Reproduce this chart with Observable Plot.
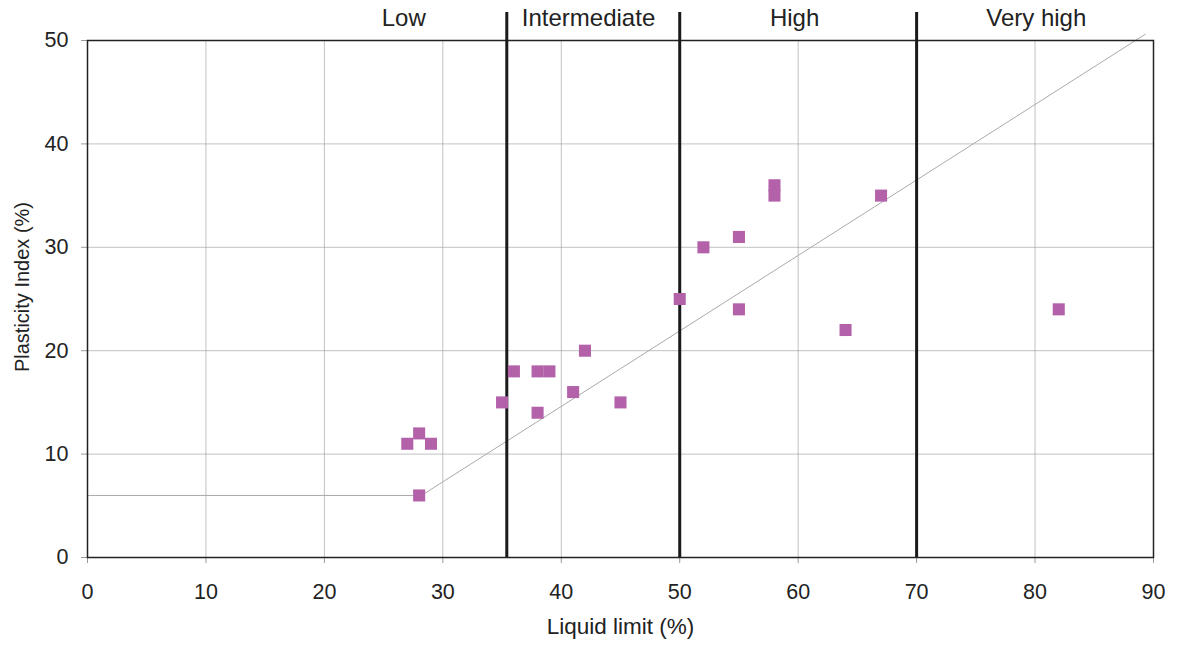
<!DOCTYPE html>
<html><head><meta charset="utf-8">
<script src="https://cdn.jsdelivr.net/npm/d3@7"></script>
<script src="https://cdn.jsdelivr.net/npm/@observablehq/plot@0.6"></script>
<style>
body{margin:0;background:#fff;font-family:"Liberation Sans",Arial,sans-serif;}
svg g[aria-label="x-axis tick label"], svg g[aria-label="y-axis tick label"] { font-size: 21.5px; }
</style></head>
<body><div id="chart"></div>
<script>
const liquidLimit = [27,28,29,28,35,36,38,39,38,41,42,45,50,52,55,55,58,58,64,67,82];
const plasticity  = [11,12,11,6,15,18,18,18,14,16,20,15,25,30,31,24,36,35,22,35,24];
const aLineLL = [0,28.2,89.3];
const aLinePI = [6,6,50.6];
const boundaries = [35.4,50,70];
const bandLabels = ["Low","Intermediate","High","Very high"];
const bandCenters = [26.7,42.3,59.7,80.1];
const xTicks = [0,10,20,30,40,50,60,70,80,90];
const yTicks = [0,10,20,30,40,50];

const pts = liquidLimit.map((x,i)=>({x, y: plasticity[i]}));
const aline = aLineLL.map((x,i)=>({x, y: aLinePI[i]}));
const bands = bandLabels.map((t,i)=>({t, x: bandCenters[i]}));

const chart = Plot.plot({
  width: 1177, height: 648,
  marginLeft: 87, marginRight: 24, marginTop: 40, marginBottom: 91,
  style: {fontFamily: '"Liberation Sans", Arial, sans-serif', fontSize: "21px", color: "#222", background: "#fff"},
  x: {domain: [0,90], ticks: xTicks, label: null},
  y: {domain: [0,50], ticks: yTicks, label: null},
  marks: [
    Plot.gridX(xTicks, {stroke: "#999", strokeOpacity: 0.6}),
    Plot.gridY(yTicks, {stroke: "#999", strokeOpacity: 0.6}),
    Plot.axisX({ticks: xTicks, tickSize: 6, tickPadding: 20, fontSize: 21.5, stroke: "#999"}),
    Plot.axisY({ticks: yTicks, tickSize: 6, tickPadding: 13, fontSize: 21.5, stroke: "#999"}),
    Plot.line(aline, {x: "x", y: "y", stroke: "#aaa", strokeWidth: 1}),
    Plot.frame({stroke: "#222", strokeWidth: 1.5}),
    Plot.ruleX(boundaries, {stroke: "#1a1a1a", strokeWidth: 3, insetTop: -28}),
    Plot.dot(pts, {x: "x", y: "y", symbol: "square", r: 6.8, fill: "#b362aa", stroke: "none"}),
    Plot.text(bands, {x: "x", y: 50, text: "t", dy: -22, fontSize: 24, fill: "#222"}),
    Plot.text(["Liquid limit (%)"], {frameAnchor: "bottom", dy: 76, fontSize: 22.5, fill: "#222"}),
    Plot.text(["Plasticity Index (%)"], {frameAnchor: "left", textAnchor: "middle", dx: -65, dy: -12, rotate: -90, fontSize: 20, fill: "#222"})
  ]
});
document.getElementById("chart").appendChild(chart);
</script></body></html>
